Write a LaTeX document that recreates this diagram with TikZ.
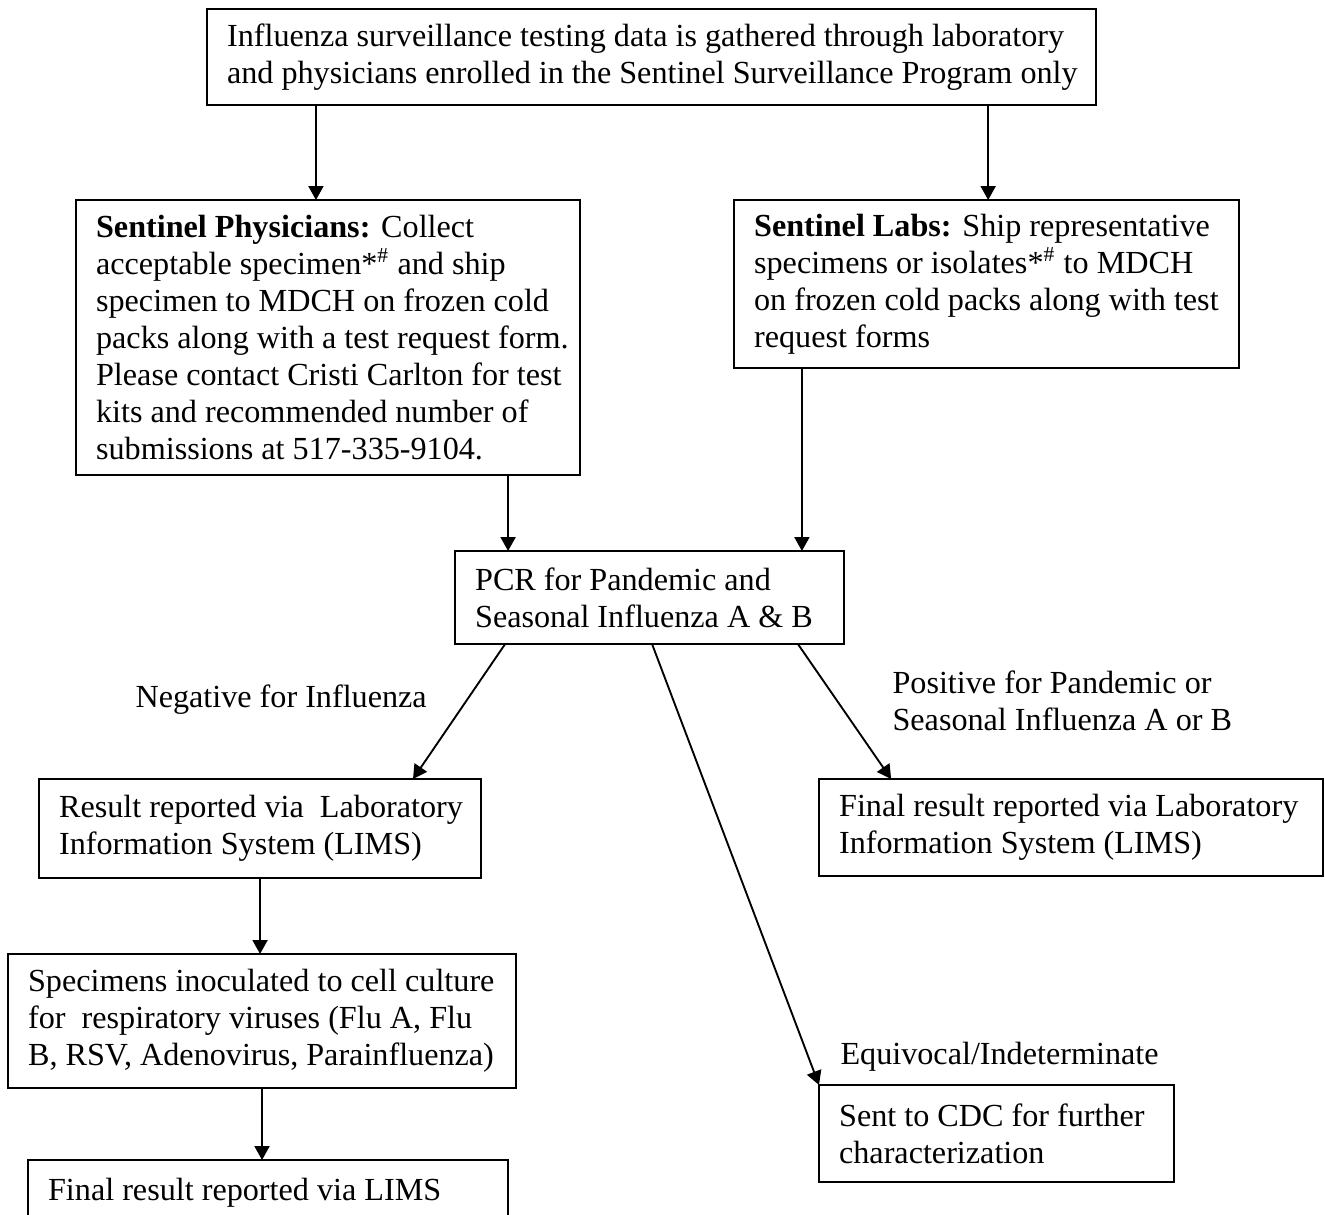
\documentclass[tikz,border=0pt]{standalone}
\usepackage{fontspec}
\setmainfont{Liberation Serif}
\usetikzlibrary{arrows.meta}

\begin{document}
\begin{tikzpicture}[
x=0.373pt, y=-0.373pt,
   box/.style = {draw, line width=0.7pt,
                 font=\fontsize{12pt}{13.8pt}\selectfont,
                 align=flush left, anchor=north west,
                 inner sep=0pt, outer sep=0pt,
                 text width=#1,
                 execute at begin node={\leftskip=7.5pt\relax}},
   lbl/.style = {font=\fontsize{12pt}{13.8pt}\selectfont,
                 align=left, anchor=west, inner sep=0pt},
   arr/.style = {line width=0.7pt,
                 -{Triangle[length=5.2pt,width=5.6pt]}}
                        ]
\useasboundingbox (0,0) rectangle (1325,1215);
    % blocks (boxes)
\node (intro) [box=331.6pt, minimum height=35.8pt] at (207,9)
    {Influenza surveillance testing data is gathered through laboratory\\
     and physicians enrolled in the Sentinel Surveillance Program only};
\node (phys) [box=188pt, minimum height=102.6pt] at (76,200)
    {\textbf{Sentinel Physicians:} Collect\\
     acceptable specimen*\textsuperscript{\#} and ship\\
     specimen to MDCH on frozen cold\\
     packs along with a test request form.\\
     Please contact Cristi Carlton for test\\
     kits and recommended number of\\
     submissions at 517-335-9104.};
\node (labs) [box=188.4pt, minimum height=62.7pt] at (734,200)
    {\textbf{Sentinel Labs:} Ship representative\\
     specimens or isolates*\textsuperscript{\#} to MDCH\\
     on frozen cold packs along with test\\
     request forms};
\node (pcr) [box=145.1pt, minimum height=34.7pt] at (455,551)
    {PCR for Pandemic and\\
     Seasonal Influenza A \& B};
\node (res) [box=164.9pt, minimum height=36.9pt] at (39,779)
    {Result reported via~ Laboratory\\
     Information System (LIMS)};
\node (fin) [box=188pt, minimum height=36.2pt] at (819,779)
    {Final result reported via Laboratory\\
     Information System (LIMS)};
\node (spec) [box=189.5pt, minimum height=50pt] at (8,954)
    {Specimens inoculated to cell culture\\
     for~ respiratory viruses (Flu A, Flu\\
     B, RSV, Adenovirus, Parainfluenza)};
\node (cdc) [box=132.4pt, minimum height=36.2pt] at (819,1085)
    {Sent to CDC for further\\
     characterization};
\node (lims) [box=179pt, minimum height=24.6pt] at (28,1160)
    {Final result reported via LIMS};
    % outcome labels
\node (neg) [lbl] at (135,700)  {Negative for Influenza};
\node (pos) [lbl] at (892,701)  {Positive for Pandemic or\\Seasonal Influenza A or B};
\node (equ) [lbl] at (840,1057) {Equivocal/Indeterminate};
    % arrows
\draw[arr] ([xshift=-4.5pt]phys.north |- intro.south) -- ([xshift=-4.5pt]phys.north);
\draw[arr] ([xshift=0.6pt]labs.north |- intro.south) -- ([xshift=0.6pt]labs.north);
\draw[arr] ([xshift=19.8pt]pcr.north west |- phys.south) -- ([xshift=19.8pt]pcr.north west);
\draw[arr] ([xshift=-15.7pt]pcr.north east |- labs.south) -- ([xshift=-15.7pt]pcr.north east);
\draw[arr] ([xshift=18.7pt]pcr.south west) -- ([xshift=-25.4pt]res.north east);
\draw[arr] ([xshift=73.5pt]pcr.south west) -- (cdc.north west);
\draw[arr] ([xshift=-17.2pt]pcr.south east) -- ([xshift=26.9pt]fin.north west);
\draw[arr] (res.south) -- (res.south |- spec.north);
\draw[arr] (spec.south) -- (spec.south |- lims.north);
\end{tikzpicture}
\end{document}
